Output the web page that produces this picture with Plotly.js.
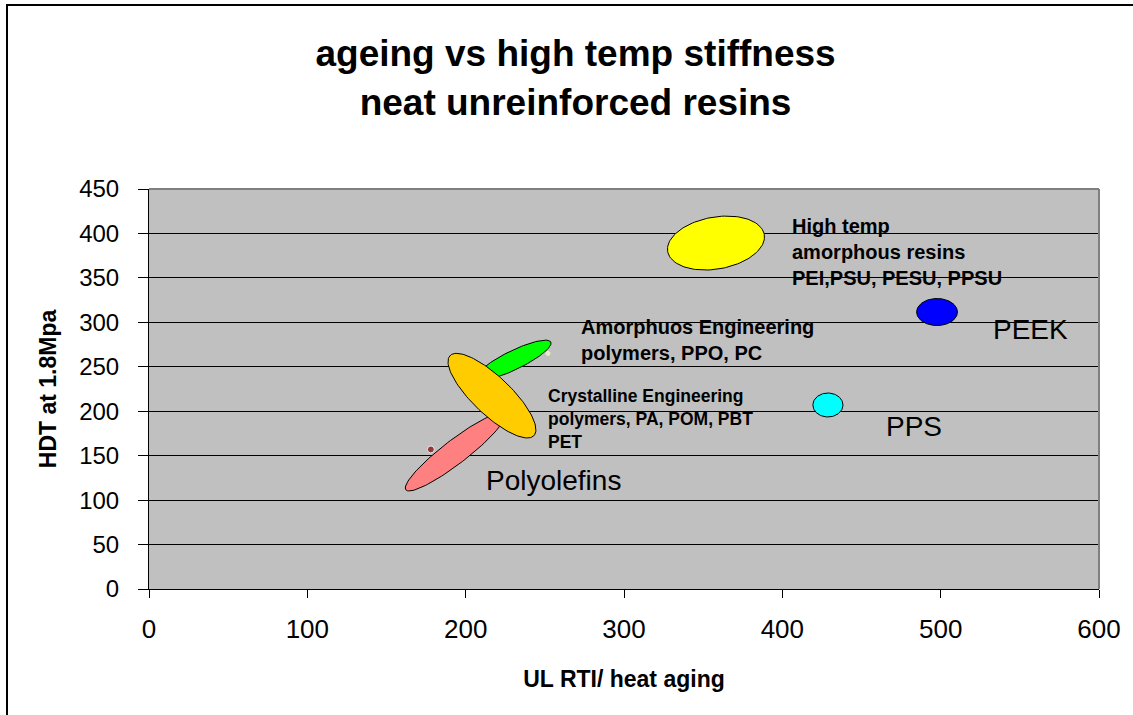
<!DOCTYPE html>
<html><head><meta charset="utf-8">
<script src="https://cdn.plot.ly/plotly-3.0.1.min.js"></script>
<style>
html,body{margin:0;padding:0;background:#fff;overflow:hidden;}
#chart{position:absolute;left:0;top:0;width:1133px;height:715px;}
#frame{position:absolute;left:6px;top:4px;width:1200px;height:800px;border-left:2px solid #000;border-top:2px solid #000;pointer-events:none;}
</style></head><body>
<div id="chart"></div><div id="frame"></div>
<script>
// Material groups drawn as ellipses (centre and two conjugate semi-axes, data units)
const groups   = ['Polyolefins', 'Amorphous engineering', 'Crystalline engineering', 'High temp amorphous', 'PEEK', 'PPS'];
const centerX  = [193.3, 230.5, 216.6, 358.1, 497.7, 428.8];
const centerY  = [154.1, 257.6, 217.5, 389.2, 311.6, 207.0];
const axis1DX  = [31.1, 23.3, 26.5, 30.5, 12.9, 9.5];
const axis1DY  = [42.5, 20.2, -45.0, 9.6, 0, 0];
const axis2DX  = [4.6, 2.6, -8.3, 2.85, 0, 0];
const axis2DY  = [-10.7, -9.6, -15.5, -28.8, 15.2, 13.5];
const fillColors = ['#FF8080', '#00FF00', '#FFCC00', '#FFFF00', '#0000FF', '#00FFFF'];

// Underlying data points (mostly hidden behind the ellipses)
const pointX = [178, 252];
const pointY = [157, 265];
const pointColors = ['#800000', '#FFFF99'];
const pointSizes = [7, 4];

const xTicks = [0, 100, 200, 300, 400, 500, 600];
const yTicks = [0, 50, 100, 150, 200, 250, 300, 350, 400, 450];

const FONT = 'Liberation Sans, Arial, sans-serif';

const traces = [{
  type: 'scatter', mode: 'markers', x: pointX, y: pointY,
  marker: {color: pointColors, size: pointSizes}, showlegend: false, hoverinfo: 'skip'
}];

const steps = 120;
groups.forEach((g, i) => {
  const xs = [], ys = [];
  for (let k = 0; k <= steps; k++) {
    const t = 2 * Math.PI * k / steps;
    xs.push(centerX[i] + axis1DX[i] * Math.cos(t) + axis2DX[i] * Math.sin(t));
    ys.push(centerY[i] + axis1DY[i] * Math.cos(t) + axis2DY[i] * Math.sin(t));
  }
  traces.push({
    type: 'scatter', mode: 'lines', name: g, x: xs, y: ys,
    fill: 'toself', fillcolor: fillColors[i],
    line: {color: '#000', width: 1}, showlegend: false, hoverinfo: 'skip'
  });
});

const bold = {family: FONT, color: '#000', weight: 'bold'};
const annotations = [
  {x: 405.0, y: 379, text: 'High temp<br>amorphous resins<br>PEI,PSU, PESU, PPSU', size: 20, b: true},
  {x: 271.8, y: 279.6, text: 'Amorphuos Engineering<br>polymers, PPO, PC', size: 20, b: true},
  {x: 251.0, y: 191.3, text: 'Crystalline Engineering<br>polymers, PA, POM, PBT<br>PET', size: 17.5, b: true},
  {x: 211.5, y: 122.6, text: 'Polyolefins', size: 28, b: false},
  {x: 531.5, y: 291.4, text: 'PEEK', size: 28, b: false},
  {x: 464.5, y: 182.3, text: 'PPS', size: 28, b: false}
].map(a => ({
  x: a.x, y: a.y, xref: 'x', yref: 'y', text: a.text, showarrow: false,
  xanchor: 'left', yanchor: 'middle', align: 'left',
  font: {family: FONT, color: '#000', size: a.size, weight: a.b ? 'bold' : 'normal'}
}));

const layout = {
  width: 1133, height: 715,
  margin: {l: 149, r: 34, t: 189, b: 126},
  paper_bgcolor: '#FFFFFF', plot_bgcolor: '#C0C0C0',
  title: {
    text: 'ageing vs high temp stiffness<br>neat unreinforced resins',
    font: Object.assign({}, bold, {size: 37}),
    x: 0.508, xref: 'container', xanchor: 'center',
    y: 0.907, yref: 'container', yanchor: 'middle'
  },
  xaxis: {
    range: [0, 600], tickvals: xTicks, ticktext: xTicks.map(String),
    ticks: 'outside', ticklen: 8, tickcolor: '#000', tickwidth: 1,
    showline: true, linecolor: '#000', linewidth: 1,
    showgrid: false, zeroline: false, fixedrange: true,
    tickfont: {family: FONT, size: 26, color: '#000'},
    ticklabelstandoff: 9,
    title: {text: 'UL RTI/ heat aging', font: Object.assign({}, bold, {size: 23}), standoff: 27}
  },
  yaxis: {
    range: [0, 450], tickvals: yTicks, ticktext: yTicks.map(String),
    ticks: 'outside', ticklen: 10, tickcolor: '#000', tickwidth: 1,
    showline: true, linecolor: '#000', linewidth: 1,
    showgrid: true, gridcolor: '#000', gridwidth: 1, zeroline: false, fixedrange: true,
    tickfont: {family: FONT, size: 24, color: '#000'},
    ticklabelstandoff: 14,
    title: {text: 'HDT at 1.8Mpa', font: Object.assign({}, bold, {size: 23}), standoff: 16}
  },
  shapes: [
    {type: 'line', xref: 'paper', yref: 'paper', x0: 0, x1: 1, y0: 1, y1: 1, line: {color: '#808080', width: 2}},
    {type: 'line', xref: 'paper', yref: 'paper', x0: 1, x1: 1, y0: 0, y1: 1, line: {color: '#808080', width: 2}}
  ],
  annotations: annotations,
  hovermode: false,
  showlegend: false
};

Plotly.newPlot('chart', traces, layout, {displayModeBar: false, staticPlot: true});
</script></body></html>
